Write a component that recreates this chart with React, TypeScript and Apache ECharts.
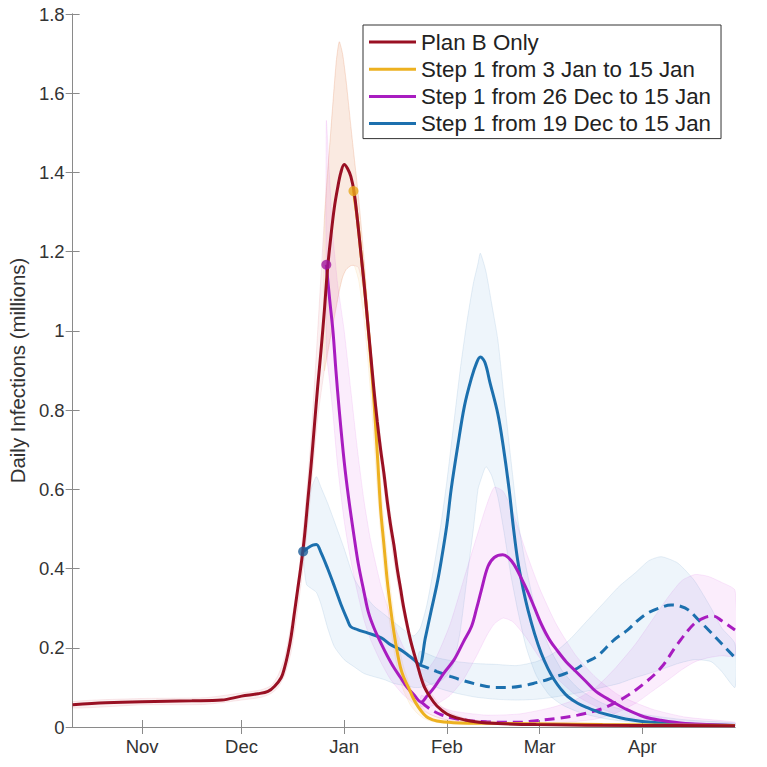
import React, { useEffect, useRef } from "react";
import * as echarts from "echarts";

// x values: days since 11 Oct 2021
const xMin = 0;
const xMax = 200;
const monthTickDays = [21, 51, 82, 113, 141, 172];
const monthLabels = ["Nov", "Dec", "Jan", "Feb", "Mar", "Apr"];
const yTicksMax = 1.8;

const seriesNames = [
  "Plan B Only",
  "Step 1 from 3 Jan to 15 Jan",
  "Step 1 from 26 Dec to 15 Jan",
  "Step 1 from 19 Dec to 15 Jan",
];

const planB: number[][] = [
  [0, 0.056], [10, 0.061], [21, 0.064], [36, 0.066], [45, 0.068], [51, 0.078], [56, 0.084], [59, 0.09],
  [61, 0.103], [63, 0.125], [64, 0.15], [65, 0.185], [66, 0.23], [67, 0.29], [68, 0.35], [69, 0.41],
  [70, 0.48], [71, 0.57], [72, 0.66], [73, 0.76], [74, 0.86], [75, 0.95], [76, 1.05], [77, 1.16],
  [78, 1.24], [79, 1.31], [80, 1.36], [81, 1.4], [82, 1.42], [83, 1.41], [84, 1.39], [85, 1.35],
  [86, 1.28], [87, 1.2], [88, 1.12], [89, 1.03], [90, 0.94], [91, 0.85], [92, 0.77], [93, 0.7],
  [94, 0.64], [95, 0.57], [96, 0.51], [97, 0.46], [98, 0.4], [99, 0.35], [100, 0.3], [102, 0.22],
  [104, 0.16], [106, 0.105], [108, 0.075], [110, 0.053], [113, 0.033], [116, 0.023], [120, 0.015],
  [125, 0.01], [140, 0.006], [170, 0.004], [200, 0.003],
];

const step3Jan: number[][] = [
  [84.8, 1.353], [86, 1.28], [87, 1.2], [88, 1.12], [89, 1.03], [90, 0.93], [91, 0.82], [92, 0.69],
  [93, 0.55], [94, 0.46], [95, 0.37], [96, 0.3], [97, 0.24], [98, 0.19], [99, 0.15], [100, 0.125],
  [101.4, 0.1], [103, 0.07], [104.4, 0.05], [106, 0.033], [107.4, 0.023], [110, 0.015], [115, 0.011],
  [130, 0.009], [160, 0.006], [200, 0.004],
];

const step26Dec: number[][] = [
  [76.6, 1.167], [77.6, 1.08], [78.6, 1.0], [79.5, 0.9], [80.5, 0.8], [82, 0.67], [83.3, 0.58],
  [85, 0.48], [86.3, 0.41], [88, 0.34], [89.3, 0.29], [91, 0.25], [93.2, 0.21], [95, 0.18], [97, 0.15],
  [99, 0.125], [101, 0.1], [103, 0.082], [105.3, 0.063], [107, 0.078], [109.2, 0.1], [112, 0.135],
  [115.2, 0.17], [118, 0.215], [120.4, 0.253], [122, 0.3], [123.4, 0.345], [125.4, 0.405],
  [127.3, 0.428], [129.9, 0.435], [131.5, 0.428], [133.3, 0.41], [135.5, 0.375], [137.5, 0.34],
  [139.5, 0.3], [141.5, 0.26], [144, 0.22], [146.6, 0.19], [149, 0.165], [151.5, 0.144], [155, 0.115],
  [158, 0.09], [162.6, 0.066], [167.6, 0.043], [172.5, 0.026], [177.6, 0.017], [185, 0.009], [200, 0.004],
];

const step26DecLater: number[][] = [
  [105.3, 0.063], [108, 0.045], [111, 0.032], [115, 0.022], [120, 0.016], [125, 0.013], [130, 0.012],
  [135, 0.012], [140, 0.016], [146.5, 0.022], [152.5, 0.03], [157, 0.039], [160.5, 0.048], [164, 0.062],
  [167.7, 0.08], [172.6, 0.11], [177.7, 0.15], [182.7, 0.21], [187.6, 0.26], [191, 0.277], [193.5, 0.28],
  [196, 0.268], [200, 0.245],
];

const step19Dec: number[][] = [
  [69.6, 0.443], [71, 0.452], [72.5, 0.459], [73.6, 0.461], [75, 0.44], [77, 0.4], [79, 0.356],
  [81, 0.31], [83, 0.27], [84, 0.253], [86, 0.246], [89.2, 0.237], [93.2, 0.225], [96, 0.208],
  [99.2, 0.194], [101.5, 0.18], [103.2, 0.169], [104.7, 0.157], [106.5, 0.225], [108.3, 0.295],
  [110, 0.36], [111.3, 0.42], [113, 0.51], [114.3, 0.6], [116.3, 0.71], [118.3, 0.81], [120.4, 0.88],
  [122, 0.92], [123.1, 0.934], [124.5, 0.92], [126, 0.87], [128.4, 0.79], [130, 0.71], [131.8, 0.6],
  [133, 0.51], [134.4, 0.42], [136, 0.35], [137.5, 0.295], [139.5, 0.235], [141.5, 0.186],
  [143.5, 0.148], [145.5, 0.118], [147.5, 0.095], [149.5, 0.077], [152.5, 0.06], [155.6, 0.048],
  [159, 0.037], [162.6, 0.029], [167, 0.02], [172, 0.014], [180, 0.009], [190, 0.006], [200, 0.004],
];

const step19DecLater: number[][] = [
  [104.7, 0.157], [107, 0.15], [110, 0.14], [114, 0.128], [118, 0.117], [123, 0.106], [128, 0.1],
  [132, 0.1], [136, 0.104], [140, 0.112], [143.5, 0.12], [147, 0.13], [151.5, 0.144], [155, 0.163],
  [158.6, 0.18], [163.5, 0.22], [167.6, 0.245], [170.5, 0.268], [173.7, 0.288], [177, 0.3],
  [180.7, 0.308], [183.5, 0.305], [186, 0.295], [189, 0.27], [192, 0.245], [196, 0.21], [200, 0.175],
];

// bands: [x, lower, upper]
const planBBand: number[][] = [
  [0, 0.048, 0.064], [21, 0.056, 0.072], [40, 0.057, 0.074], [51, 0.068, 0.086], [57, 0.075, 0.094],
  [60, 0.085, 0.105], [62, 0.1, 0.13], [64, 0.13, 0.175], [66, 0.19, 0.26], [68, 0.3, 0.37],
  [70, 0.43, 0.53], [72, 0.6, 0.73], [74, 0.78, 1.0], [76, 0.9, 1.28], [78, 0.99, 1.51],
  [79.6, 1.06, 1.68], [80.5, 1.1, 1.73], [81.5, 1.135, 1.7], [82.6, 1.155, 1.63], [84.1, 1.165, 1.51],
  [85, 1.165, 1.44], [86.3, 1.16, 1.34], [88.1, 1.09, 1.17], [89.6, 0.96, 1.01], [91, 0.83, 0.88],
  [93, 0.67, 0.73], [95, 0.54, 0.6], [97, 0.42, 0.48], [99, 0.32, 0.37], [101, 0.24, 0.27],
  [103, 0.175, 0.195], [105, 0.12, 0.135], [108, 0.07, 0.088], [111, 0.042, 0.055], [115, 0.022, 0.032],
  [120, 0.012, 0.019], [130, 0.007, 0.012], [150, 0.004, 0.008], [200, 0.002, 0.004],
];

const step3JanBand: number[][] = [
  [76, 0.9, 1.28], [78, 0.99, 1.51], [79.6, 1.06, 1.68], [80.5, 1.1, 1.73], [81.5, 1.135, 1.7],
  [82.6, 1.155, 1.63], [84.1, 1.165, 1.51], [85, 1.165, 1.44], [86.3, 1.13, 1.34], [87.2, 1.08, 1.26],
  [88.1, 1.02, 1.17], [89, 0.94, 1.07], [90, 0.84, 0.97], [91, 0.72, 0.86], [92, 0.6, 0.74],
  [93, 0.49, 0.62], [94, 0.4, 0.52], [95, 0.31, 0.43], [96, 0.25, 0.35], [97, 0.195, 0.285],
  [98, 0.15, 0.23], [99, 0.115, 0.185], [100, 0.09, 0.15], [102, 0.055, 0.1], [104, 0.035, 0.068],
  [106, 0.022, 0.045], [108, 0.015, 0.032], [112, 0.009, 0.02], [120, 0.006, 0.014], [140, 0.005, 0.011],
  [170, 0.003, 0.008], [200, 0.002, 0.006],
];

const step26DecBand: number[][] = [
  [76.6, 0.95, 1.53], [77.5, 0.88, 1.4], [78.5, 0.8, 1.25], [80, 0.66, 1.12], [82, 0.52, 1.0],
  [84, 0.42, 0.85], [86, 0.34, 0.7], [88, 0.27, 0.57], [90, 0.22, 0.47], [93, 0.165, 0.36],
  [96, 0.12, 0.28], [100, 0.08, 0.2], [104, 0.055, 0.15], [107, 0.05, 0.145], [110, 0.058, 0.18],
  [114, 0.08, 0.26], [118, 0.12, 0.37], [122, 0.18, 0.48], [125, 0.23, 0.56], [127.3, 0.26, 0.605],
  [130, 0.275, 0.595], [133, 0.265, 0.54], [137, 0.225, 0.44], [141, 0.175, 0.35], [146, 0.125, 0.26],
  [152, 0.08, 0.18], [158, 0.052, 0.125], [165, 0.03, 0.08], [175, 0.015, 0.045], [185, 0.008, 0.025],
  [200, 0.003, 0.012],
];

const step26DecLaterBand: number[][] = [
  [105.3, 0.045, 0.08], [110, 0.025, 0.055], [115, 0.014, 0.04], [125, 0.008, 0.03], [135, 0.008, 0.033],
  [145, 0.01, 0.05], [152, 0.014, 0.07], [158, 0.02, 0.1], [164, 0.035, 0.15], [170, 0.06, 0.21],
  [175, 0.09, 0.27], [180, 0.12, 0.33], [184, 0.145, 0.37], [188, 0.165, 0.385], [192, 0.175, 0.38],
  [196, 0.18, 0.365], [200, 0.18, 0.345],
];

const step19DecBand: number[][] = [
  [69.6, 0.43, 0.46], [70.6, 0.36, 0.53], [72, 0.35, 0.6], [73.6, 0.34, 0.632], [75, 0.31, 0.605],
  [77, 0.25, 0.565], [79, 0.203, 0.52], [82, 0.17, 0.45], [85, 0.152, 0.375], [88, 0.135, 0.335],
  [91, 0.127, 0.305], [94, 0.12, 0.285], [97, 0.11, 0.265], [100, 0.105, 0.245], [103, 0.1, 0.23],
  [105, 0.1, 0.25], [107, 0.105, 0.31], [109, 0.11, 0.4], [111, 0.115, 0.5], [113, 0.13, 0.62],
  [115, 0.16, 0.76], [117, 0.24, 0.9], [119, 0.37, 1.02], [121, 0.5, 1.12], [122.4, 0.6, 1.17],
  [123.1, 0.62, 1.196], [124.8, 0.657, 1.15], [126.5, 0.635, 1.07], [128.4, 0.58, 0.977],
  [130.3, 0.49, 0.83], [132.4, 0.38, 0.67], [134.5, 0.29, 0.52], [137, 0.2, 0.4], [140, 0.13, 0.29],
  [144, 0.08, 0.2], [148, 0.055, 0.14], [153, 0.037, 0.095], [160, 0.022, 0.06], [170, 0.011, 0.035],
  [185, 0.005, 0.018], [200, 0.003, 0.01],
];

const step19DecLaterBand: number[][] = [
  [104.7, 0.13, 0.19], [110, 0.1, 0.175], [116, 0.085, 0.165], [122, 0.075, 0.16], [128, 0.07, 0.158],
  [134, 0.068, 0.155], [140, 0.07, 0.165], [145, 0.075, 0.185], [150, 0.082, 0.22], [155, 0.09, 0.265],
  [160, 0.1, 0.31], [165, 0.11, 0.355], [170, 0.125, 0.39], [174, 0.135, 0.42], [177.7, 0.145, 0.43],
  [182.7, 0.16, 0.414], [187.7, 0.17, 0.37], [192.8, 0.165, 0.3], [196, 0.14, 0.25], [200, 0.1, 0.21],
];

// scenario start markers
const markerX = [69.6, 76.6, 84.8];
const markerY = [0.443, 1.167, 1.353];

const RED = "#991023";
const YELLOW = "#EDB120";
const PURPLE = "#A81CC0";
const BLUE = "#1C70AE";
const markerColors = ["#1D5E98", "#A0169F", "#E8A81C"];

function band(data: number[][], fill: string, edge: string) {
  return {
    type: "custom",
    silent: true,
    z: 1,
    clip: true,
    data: data,
    encode: { x: 0, y: [1, 2] },
    renderItem: (params: any, api: any) => {
      if (params.dataIndexInside !== 0) return null;
      const pts: number[][] = [];
      for (let i = 0; i < data.length; i++) pts.push(api.coord([data[i][0], data[i][2]]));
      for (let i = data.length - 1; i >= 0; i--) pts.push(api.coord([data[i][0], data[i][1]]));
      return {
        type: "polygon",
        shape: { points: pts, smooth: 0.2 },
        style: { fill, stroke: edge, lineWidth: 0.8 },
      };
    },
  };
}

function line(name: string | undefined, data: number[][], color: string, z: number, dashed = false) {
  return {
    type: "line",
    name,
    data,
    z,
    showSymbol: false,
    symbol: "none",
    smooth: 0.35,
    silent: true,
    itemStyle: { color },
    lineStyle: { color, width: 3, type: dashed ? [10, 6] : "solid" },
  };
}

export default function App() {
  const ref = useRef<HTMLDivElement>(null);
  useEffect(() => {
    document.body.style.margin = "0";
    const chart = echarts.init(ref.current as HTMLDivElement, null, { renderer: "svg" });
    const fontFamily = "'Liberation Sans', Arial, Helvetica, sans-serif";
    const axisColor = "#8a8a8a";
    const tickFormatter = (v: number) => {
      const i = monthTickDays.indexOf(v);
      return i >= 0 ? monthLabels[i] : "";
    };
    const option: any = {
      animation: false,
      backgroundColor: "#ffffff",
      textStyle: { fontFamily },
      grid: { left: 71, right: 32, top: 14, bottom: 40, containLabel: false },
      legend: {
        data: seriesNames,
        orient: "vertical",
        left: 363,
        top: 25,
        padding: [6, 10, 4, 6],
        itemWidth: 47,
        itemHeight: 3,
        itemGap: 5.2,
        icon: "rect",
        backgroundColor: "#ffffff",
        borderColor: "#333333",
        borderWidth: 1,
        borderRadius: 0,
        textStyle: { fontSize: 22.3, lineHeight: 22, color: "#222222", fontFamily },
      },
      xAxis: [
        {
          type: "value",
          min: xMin,
          max: xMax,
          position: "bottom",
          splitLine: { show: false },
          axisLine: { lineStyle: { color: axisColor } },
          axisTick: { inside: true, length: 7, lineStyle: { color: axisColor }, customValues: monthTickDays },
          axisLabel: { customValues: monthTickDays, formatter: tickFormatter, fontSize: 18.5, color: "#333", margin: 10 },
        },
        {
          type: "value",
          min: xMin,
          max: xMax,
          position: "top",
          splitLine: { show: false },
          axisLine: { lineStyle: { color: axisColor } },
          axisTick: { inside: true, length: 7, lineStyle: { color: axisColor }, customValues: monthTickDays },
          axisLabel: { show: false },
        },
      ],
      yAxis: [
        {
          type: "value",
          min: 0,
          max: yTicksMax,
          interval: 0.2,
          position: "left",
          name: "Daily Infections (millions)",
          nameLocation: "middle",
          nameGap: 38,
          nameTextStyle: { fontSize: 20.4, color: "#333" },
          splitLine: { show: false },
          axisLine: { show: true, lineStyle: { color: axisColor } },
          axisTick: { show: true, inside: true, length: 7, lineStyle: { color: axisColor } },
          axisLabel: { fontSize: 18.5, color: "#333", margin: 8 },
        },
        {
          type: "value",
          min: 0,
          max: yTicksMax,
          interval: 0.2,
          position: "right",
          splitLine: { show: false },
          axisLine: { show: true, lineStyle: { color: axisColor } },
          axisTick: { show: true, inside: true, length: 7, lineStyle: { color: axisColor } },
          axisLabel: { show: false },
        },
      ],
      series: [
        band(planBBand, "rgba(200,40,60,0.07)", "rgba(200,40,60,0.12)"),
        band(step3JanBand, "rgba(237,160,40,0.08)", "rgba(237,160,40,0.13)"),
        band(step26DecBand, "rgba(210,60,220,0.09)", "rgba(210,60,220,0.14)"),
        band(step26DecLaterBand, "rgba(210,60,220,0.09)", "rgba(210,60,220,0.14)"),
        band(step19DecBand, "rgba(100,160,215,0.11)", "rgba(100,150,200,0.2)"),
        band(step19DecLaterBand, "rgba(100,160,215,0.11)", "rgba(100,150,200,0.2)"),
        line(undefined, step19DecLater, BLUE, 3, true),
        line(undefined, step26DecLater, PURPLE, 3, true),
        line(seriesNames[3], step19Dec, BLUE, 4),
        line(seriesNames[2], step26Dec, PURPLE, 4),
        line(seriesNames[1], step3Jan, YELLOW, 5),
        line(seriesNames[0], planB, RED, 6),
        {
          type: "scatter",
          z: 7,
          silent: true,
          symbolSize: 10,
          data: markerX.map((x, i) => ({ value: [x, markerY[i]], itemStyle: { color: markerColors[i] } })),
        },
      ],
    };
    chart.setOption(option);
    return () => chart.dispose();
  }, []);
  return <div ref={ref} style={{ width: 767, height: 767 }} />;
}
